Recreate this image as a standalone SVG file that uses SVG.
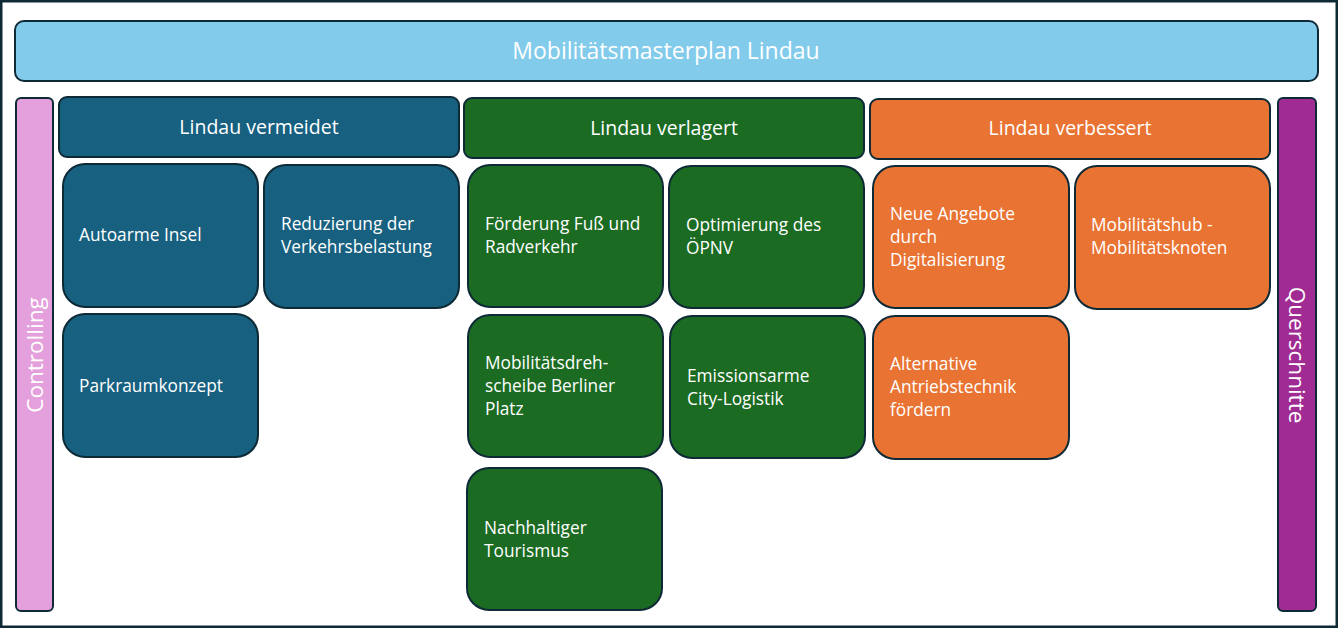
<svg xmlns="http://www.w3.org/2000/svg" width="1338" height="628" viewBox="0 0 1338 628">
<style>
text{font-family:"Open Sans","Noto Sans","Liberation Sans",sans-serif;fill:#ffffff}
.box{stroke:#0e2a36;stroke-width:2}
.blue{fill:#17607f}
.green{fill:#1b6b23}
.orange{fill:#e97333}
.t{font-size:17.3px}
.h{font-size:19.5px;text-anchor:middle}
.side{font-size:22.5px;text-anchor:middle}
</style>
<rect x="1" y="1" width="1336" height="626" fill="#ffffff" stroke="#0e2a36" stroke-width="3"/>
<g id="title">
<rect class="box" x="15" y="21" width="1303" height="60" rx="9" fill="#83cbeb"/>
<text x="666" y="59" font-size="23" text-anchor="middle">Mobilitätsmasterplan Lindau</text>
</g>
<g id="controlling">
<rect class="box" x="16" y="98" width="37" height="513" rx="5" fill="#e4a0dc"/>
<text class="side" transform="translate(43,355) rotate(-90)">Controlling</text>
</g>
<g id="querschnitte">
<rect class="box" x="1278" y="98" width="38" height="513" rx="5" fill="#a02b93"/>
<text class="side" transform="translate(1289,355) rotate(90)">Querschnitte</text>
</g>
<g id="h-vermeidet">
<rect class="box blue" x="59" y="97" width="400" height="60" rx="8"/>
<text class="h" x="259" y="134">Lindau vermeidet</text>
</g>
<g id="h-verlagert">
<rect class="box green" x="464" y="98" width="400" height="60" rx="8"/>
<text class="h" x="664" y="135">Lindau verlagert</text>
</g>
<g id="h-verbessert">
<rect class="box orange" x="870" y="99" width="400" height="60" rx="8"/>
<text class="h" x="1070" y="135">Lindau verbessert</text>
</g>
<g id="autoarme">
<rect class="box blue" x="63" y="164" width="195" height="143" rx="22"/>
<text class="t" x="79" y="241">Autoarme Insel</text>
</g>
<g id="reduzierung">
<rect class="box blue" x="264" y="165" width="195" height="143" rx="22"/>
<text class="t" x="281" y="230">Reduzierung der</text>
<text class="t" x="281" y="253">Verkehrsbelastung</text>
</g>
<g id="parkraum">
<rect class="box blue" x="63" y="314" width="195" height="143" rx="22"/>
<text class="t" x="79" y="392">Parkraumkonzept</text>
</g>
<g id="foerderung">
<rect class="box green" x="468" y="165" width="195" height="142" rx="22"/>
<text class="t" x="485" y="230">Förderung Fuß und</text>
<text class="t" x="485" y="253">Radverkehr</text>
</g>
<g id="oepnv">
<rect class="box green" x="669" y="166" width="195" height="142" rx="22"/>
<text class="t" x="686" y="231">Optimierung des</text>
<text class="t" x="686" y="254">ÖPNV</text>
</g>
<g id="drehscheibe">
<rect class="box green" x="468" y="315" width="195" height="142" rx="22"/>
<text class="t" x="485" y="369">Mobilitätsdreh-</text>
<text class="t" x="485" y="392">scheibe Berliner</text>
<text class="t" x="485" y="415">Platz</text>
</g>
<g id="logistik">
<rect class="box green" x="670" y="316" width="195" height="142" rx="22"/>
<text class="t" x="687" y="382">Emissionsarme</text>
<text class="t" x="687" y="405">City-Logistik</text>
</g>
<g id="tourismus">
<rect class="box green" x="467" y="468" width="195" height="142" rx="22"/>
<text class="t" x="484" y="534">Nachhaltiger</text>
<text class="t" x="484" y="557">Tourismus</text>
</g>
<g id="digital">
<rect class="box orange" x="873" y="166" width="196" height="142" rx="22"/>
<text class="t" x="890" y="220">Neue Angebote</text>
<text class="t" x="890" y="243">durch</text>
<text class="t" x="890" y="266">Digitalisierung</text>
</g>
<g id="hub">
<rect class="box orange" x="1075" y="166" width="195" height="143" rx="22"/>
<text class="t" x="1091" y="231">Mobilitätshub -</text>
<text class="t" x="1091" y="254">Mobilitätsknoten</text>
</g>
<g id="antrieb">
<rect class="box orange" x="873" y="316" width="196" height="143" rx="22"/>
<text class="t" x="890" y="370">Alternative</text>
<text class="t" x="890" y="393">Antriebstechnik</text>
<text class="t" x="890" y="416">fördern</text>
</g>
<g id="connectors"></g>
</svg>
